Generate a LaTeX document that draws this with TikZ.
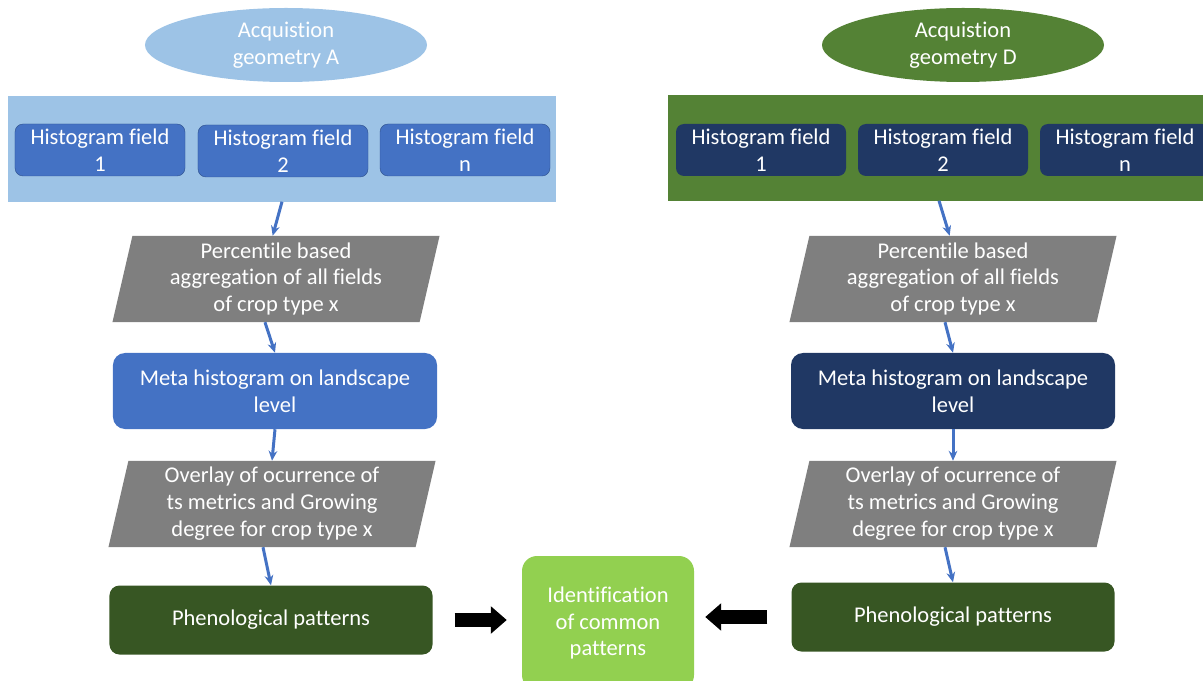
\documentclass[tikz,border=0pt]{standalone}
\usepackage{fontspec}
\setmainfont{Carlito}[Ligatures=NoCommon]
\usepackage{tikz}
\usetikzlibrary{positioning}
\usetikzlibrary{arrows.meta, shapes.geometric, backgrounds}

\definecolor{skyA}{HTML}{9DC3E6}
\definecolor{fieldA}{HTML}{4472C4}
\definecolor{fieldAline}{HTML}{2F528F}
\definecolor{leafD}{HTML}{548235}
\definecolor{navyD}{HTML}{203864}
\definecolor{stepgrey}{HTML}{7F7F7F}
\definecolor{phenogreen}{HTML}{375623}
\definecolor{identgreen}{HTML}{92D050}

\begin{document}
\begin{tikzpicture}[x=0.03cm, y=-0.03cm]
\useasboundingbox (0,0) rectangle (1203,681);

\tikzset{
	base/.style={text=white, align=center, inner sep=0pt,
		font=\fontsize{19.2}{23}\selectfont},
	geom/.style={base, ellipse, minimum width=8.46cm, minimum height=2.22cm},
	panel/.style={base, minimum width=#1, minimum height=3.15cm},
	panel/.default=16.44cm,
	histbox/.style={base, rounded corners=0.24cm, minimum width=5.1cm,
		minimum height=1.56cm},
	parabox/.style={base, minimum width=9.2cm, minimum height=2.58cm},
	metabox/.style={base, rounded corners=0.36cm, minimum width=9.72cm,
		minimum height=2.28cm},
	phenobox/.style={base, fill=phenogreen, rounded corners=0.3cm,
		minimum width=9.69cm, minimum height=2.07cm},
	flow/.style={draw=fieldA, line width=0.09cm,
		-{Stealth[length=0.3cm, width=0.26cm]}},
	bigarrow/.style={line width=0.42cm,
		-{Triangle[length=0.48cm, width=0.8cm]}}
}

% left branch: geometry A
\node[geom, fill=skyA] (ellA) at (286,45) {Acquistion\\geometry A};
\node[panel, fill=skyA] (panelA) at (282,149) {};
\node[histbox, fill=fieldA, draw=fieldAline] (hA1) at (100,150) {Histogram field\\1};
\node[histbox, fill=fieldA, draw=fieldAline] (hA2) at (283,151) {Histogram field\\2};
\node[histbox, fill=fieldA, draw=fieldAline] (hA3) at (465,150) {Histogram field\\n};
\node[parabox] (aggA) at (276,279) {Percentile based\\aggregation of all fields\\of crop type x};
\node[metabox, fill=fieldA] (metaA) at (275,391) {Meta histogram on landscape\\level};
\node[parabox] (ovA) at (272,504) {Overlay of ocurrence of\\ts metrics and Growing\\degree for crop type x};
\node[phenobox] (phenA) at (271,620) {Phenological patterns};

% right branch: geometry D
\node[geom, fill=leafD] (ellD) at (963,45) {Acquistion\\geometry D};
\node[panel=16.26cm, fill=leafD] (panelD) at (939,148) {};
\node[histbox, fill=navyD] (hD1) at (761,150) {Histogram field\\1};
\node[histbox, fill=navyD] (hD2) at (943,150) {Histogram field\\2};
\node[histbox, fill=navyD] (hD3) at (1125,150) {Histogram field\\n};
\node[parabox] (aggD) at (953,279) {Percentile based\\aggregation of all fields\\of crop type x};
\node[metabox, fill=navyD] (metaD) at (953,391) {Meta histogram on landscape\\level};
\node[parabox] (ovD) at (953,504) {Overlay of ocurrence of\\ts metrics and Growing\\degree for crop type x};
\node[phenobox] (phenD) at (953,617) {Phenological patterns};

% common result
\node[base, fill=identgreen, rounded corners=0.45cm, minimum width=5.16cm,
	minimum height=4.02cm] (ident) at (608,623) {Identification\\of common\\patterns};

% slanted step shapes
\begin{scope}[on background layer]
\foreach \n in {aggA, ovA, aggD, ovD}
	\fill[stepgrey] ([xshift=-0.3cm]\n.south west) -- ([xshift=0.3cm]\n.north west)
		-- ([xshift=0.3cm]\n.north east) -- ([xshift=-0.3cm]\n.south east) -- cycle;
\end{scope}

% flow arrows
\draw[flow] (panelA.south) -- ([xshift=-0.1cm]aggA.north);
\draw[flow] ([xshift=-0.33cm]aggA.south) -- (metaA.north);
\draw[flow] (metaA.south) -- (ovA.north);
\draw[flow] ([xshift=-0.27cm]ovA.south) -- (phenA.north);
\draw[flow] (panelD.south) -- ([xshift=-0.1cm]aggD.north);
\draw[flow] ([xshift=-0.24cm]aggD.south) -- (metaD.north);
\draw[flow] (metaD.south) -- (ovD.north);
\draw[flow] ([xshift=-0.24cm]ovD.south) -- (phenD.north);

\draw[bigarrow, shorten <=0.66cm, shorten >=0.45cm] (phenA.east) -- (phenA.east -| ident.west);
\draw[bigarrow, shorten <=0.72cm, shorten >=0.33cm] (phenD.west) -- (phenD.west -| ident.east);
\end{tikzpicture}
\end{document}
